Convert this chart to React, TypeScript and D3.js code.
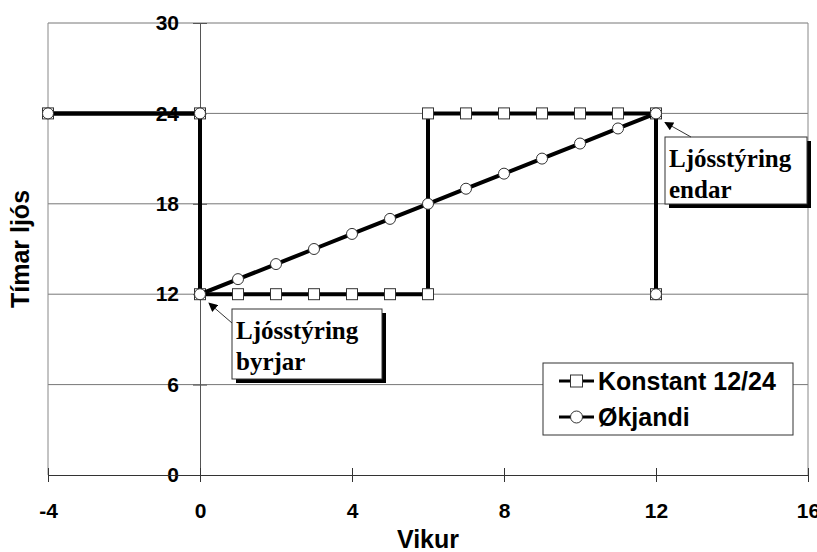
import { useEffect, useRef } from "react";
import * as d3 from "d3";

// Konstant 12/24 series
const konstantX = [-4, 0, 0, 1, 2, 3, 4, 5, 6, 6, 7, 8, 9, 10, 11, 12, 12];
const konstantY = [24, 24, 12, 12, 12, 12, 12, 12, 12, 24, 24, 24, 24, 24, 24, 24, 12];

// Økjandi series
const okjandiX = [-4, 0, 0, 1, 2, 3, 4, 5, 6, 7, 8, 9, 10, 11, 12, 12];
const okjandiY = [24, 24, 12, 13, 14, 15, 16, 17, 18, 19, 20, 21, 22, 23, 24, 12];

const xTicks = [-4, 0, 4, 8, 12, 16];
const yTicks = [0, 6, 12, 18, 24, 30];
const seriesNames = ["Konstant 12/24", "Økjandi"];

const W = 817;
const H = 552;

const App = () => {
  const ref = useRef<SVGSVGElement | null>(null);

  useEffect(() => {
    if (!ref.current) return;
    const svg = d3.select(ref.current);
    svg.selectAll("*").remove();

    const x = d3.scaleLinear().domain([-4, 16]).range([48, 808]);
    const y = d3.scaleLinear().domain([0, 30]).range([475, 23]);
    const sans = "'Liberation Sans', Arial, sans-serif";
    const serif = "'Liberation Serif', 'Times New Roman', serif";

    svg.append("rect").attr("width", W).attr("height", H).attr("fill", "#fff");

    // arrowhead for the notes
    svg
      .append("defs")
      .append("marker")
      .attr("id", "arr")
      .attr("viewBox", "0 0 10 10")
      .attr("refX", 9)
      .attr("refY", 5)
      .attr("markerWidth", 10)
      .attr("markerHeight", 9)
      .attr("markerUnits", "userSpaceOnUse")
      .attr("orient", "auto")
      .append("path")
      .attr("d", "M0,0L10,5L0,10Z")
      .attr("fill", "#000");

    // horizontal gridlines
    svg
      .append("g")
      .selectAll("line")
      .data(yTicks.filter(d => d > 0))
      .enter()
      .append("line")
      .attr("x1", x(-4))
      .attr("x2", x(16))
      .attr("y1", d => y(d))
      .attr("y2", d => y(d))
      .attr("stroke", "#777")
      .attr("stroke-width", 1);

    // plot area sides
    svg.append("line").attr("x1", x(-4)).attr("x2", x(-4)).attr("y1", y(0)).attr("y2", y(30)).attr("stroke", "#888");
    svg.append("line").attr("x1", x(16)).attr("x2", x(16)).attr("y1", y(0)).attr("y2", y(30)).attr("stroke", "#888");

    // y axis crosses at x=0
    const yAxis = d3
      .axisLeft(y)
      .tickValues(yTicks)
      .tickSizeInner(7)
      .tickSizeOuter(0)
      .tickPadding(14)
      .tickFormat(d => String(d));
    const gy = svg.append("g").attr("transform", `translate(${x(0)},0)`).call(yAxis);
    gy.select(".domain").attr("stroke", "#555");
    gy.selectAll(".tick line").attr("x2", -7).attr("x1", 7).attr("stroke", "#555");
    gy.selectAll("text")
      .attr("font-family", sans)
      .attr("font-weight", "bold")
      .attr("font-size", 21)
      .attr("fill", "#000");

    // x axis at y=0
    const xAxis = d3
      .axisBottom(x)
      .tickValues(xTicks)
      .tickSizeInner(7)
      .tickSizeOuter(0)
      .tickFormat(d => String(d));
    const gx = svg.append("g").attr("transform", `translate(0,${y(0)})`).call(xAxis);
    gx.select(".domain").attr("stroke", "#333");
    gx.selectAll(".tick line").attr("y1", -7).attr("y2", 7).attr("stroke", "#333");
    gx.selectAll("text")
      .attr("y", 43)
      .attr("dy", 0)
      .attr("font-family", sans)
      .attr("font-weight", "bold")
      .attr("font-size", 21)
      .attr("fill", "#000");

    // axis titles
    svg
      .append("text")
      .attr("x", (x(-4) + x(16)) / 2)
      .attr("y", 548)
      .attr("text-anchor", "middle")
      .attr("font-family", sans)
      .attr("font-weight", "bold")
      .attr("font-size", 25)
      .text("Vikur");
    svg
      .append("text")
      .attr("transform", `translate(29,${(y(0) + y(30)) / 2}) rotate(-90)`)
      .attr("text-anchor", "middle")
      .attr("font-family", sans)
      .attr("font-weight", "bold")
      .attr("font-size", 25)
      .text("Tímar ljós");

    const line = d3
      .line<[number, number]>()
      .x(d => x(d[0]))
      .y(d => y(d[1]));

    const kData: [number, number][] = konstantX.map((v, i) => [v, konstantY[i]]);
    const oData: [number, number][] = okjandiX.map((v, i) => [v, okjandiY[i]]);

    // Konstant series
    svg.append("path").attr("d", line(kData)).attr("fill", "none").attr("stroke", "#000").attr("stroke-width", 4);
    svg
      .append("g")
      .selectAll("rect")
      .data(kData)
      .enter()
      .append("rect")
      .attr("x", d => x(d[0]) - 5.5)
      .attr("y", d => y(d[1]) - 5.5)
      .attr("width", 11)
      .attr("height", 11)
      .attr("fill", "#fff")
      .attr("stroke", "#333")
      .attr("stroke-width", 1);

    // Økjandi series
    svg.append("path").attr("d", line(oData)).attr("fill", "none").attr("stroke", "#000").attr("stroke-width", 4);
    svg
      .append("g")
      .selectAll("circle")
      .data(oData)
      .enter()
      .append("circle")
      .attr("cx", d => x(d[0]))
      .attr("cy", d => y(d[1]))
      .attr("r", 5.5)
      .attr("fill", "#fff")
      .attr("stroke", "#333")
      .attr("stroke-width", 1);

    // note boxes with shadow
    const notes = [
      { bx: 232, by: 309, bw: 150, bh: 70, lines: ["Ljósstýring", "byrjar"], from: [232, 323], px: 0, py: 12 },
      { bx: 665, by: 137, bw: 142, bh: 67, lines: ["Ljósstýring", "endar"], from: [691, 137], px: 12, py: 24 },
    ];
    notes.forEach(n => {
      const g = svg.append("g");
      g.append("rect").attr("x", n.bx + 4).attr("y", n.by + 4).attr("width", n.bw).attr("height", n.bh).attr("fill", "#000");
      g.append("rect")
        .attr("x", n.bx)
        .attr("y", n.by)
        .attr("width", n.bw)
        .attr("height", n.bh)
        .attr("fill", "#fff")
        .attr("stroke", "#333")
        .attr("stroke-width", 1);
      n.lines.forEach((t, i) => {
        g.append("text")
          .attr("x", n.bx + 4)
          .attr("y", n.by + 30 + i * 31)
          .attr("font-family", serif)
          .attr("font-weight", "bold")
          .attr("font-size", 25)
          .text(t);
      });
      g.append("line")
        .attr("x1", n.from[0])
        .attr("y1", n.from[1])
        .attr("x2", x(n.px) + 9)
        .attr("y2", y(n.py) + 9)
        .attr("stroke", "#333")
        .attr("stroke-width", 1)
        .attr("marker-end", "url(#arr)");
    });

    // legend
    const lg = svg.append("g");
    lg.append("rect")
      .attr("x", 543)
      .attr("y", 363)
      .attr("width", 250)
      .attr("height", 72)
      .attr("fill", "#fff")
      .attr("stroke", "#333")
      .attr("stroke-width", 1);
    seriesNames.forEach((name, i) => {
      const cy = 381 + i * 36;
      lg.append("line").attr("x1", 559).attr("x2", 594).attr("y1", cy).attr("y2", cy).attr("stroke", "#000").attr("stroke-width", 3);
      if (i === 0) {
        lg.append("rect").attr("x", 570.5).attr("y", cy - 6).attr("width", 12).attr("height", 12).attr("fill", "#fff").attr("stroke", "#333");
      } else {
        lg.append("circle").attr("cx", 576.5).attr("cy", cy).attr("r", 6).attr("fill", "#fff").attr("stroke", "#333");
      }
      lg.append("text")
        .attr("x", 598)
        .attr("y", cy)
        .attr("dy", "0.36em")
        .attr("font-family", sans)
        .attr("font-weight", "bold")
        .attr("font-size", 25)
        .text(name);
    });
  }, []);

  return (
    <svg
      ref={ref}
      width={W}
      height={H}
      style={{ position: "absolute", left: 0, top: 0, display: "block" }}
    />
  );
};

export default App;
